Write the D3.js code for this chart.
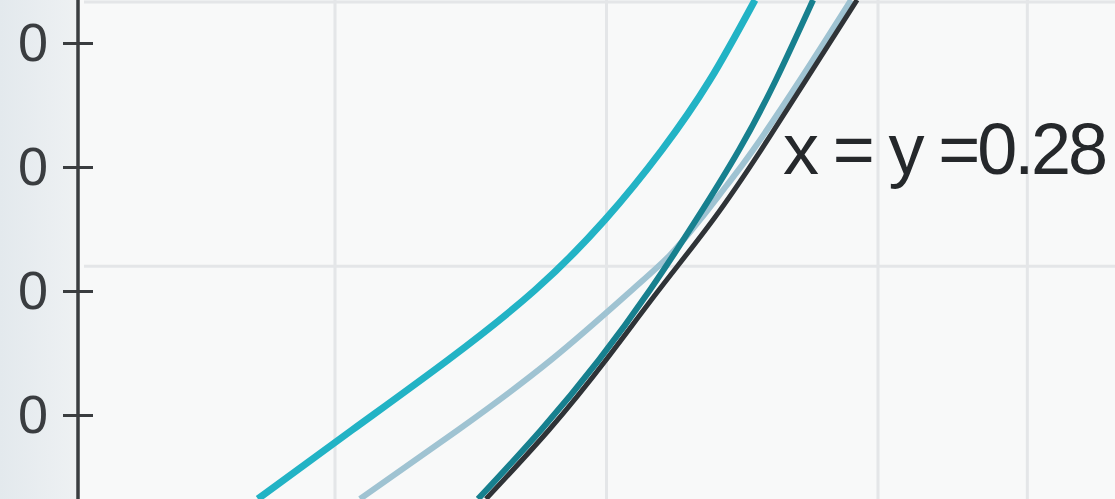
<!DOCTYPE html>
<html>
<head>
<meta charset="utf-8">
<script src="https://cdn.jsdelivr.net/npm/d3@7"></script>
<style>
  html, body { margin: 0; padding: 0; background: #f8f9f9; }
  svg { display: block; }
</style>
</head>
<body>
<svg id="chart" width="1115" height="499"></svg>
<script>
// Axis ticks and grid positions (data units)
const yTicks = [0.1, 0.2, 0.3, 0.4];
const yTickLabels = ["0", "0", "0", "0"];
const xGrid = [0.1, 0.2, 0.3, 0.355];
const yGrid = [0.22, 0.433];

// Curves
const cyanX  = [0.0716, 0.1063, 0.1416, 0.1737, 0.1994, 0.2204, 0.2381, 0.2547];
const cyanY  = [0.0323, 0.0879, 0.1444, 0.2008, 0.2573, 0.3137, 0.3702, 0.4347];

const paleX  = [0.1092, 0.1453, 0.1796, 0.2094, 0.2234, 0.2344, 0.2444, 0.2540, 0.2713, 0.2901];
const paleY  = [0.0323, 0.0879, 0.1444, 0.2008, 0.2290, 0.2573, 0.2855, 0.3137, 0.3702, 0.4347];

const blackX = [0.1556, 0.1788, 0.1998, 0.2193, 0.2392, 0.2569, 0.2735, 0.2923];
const blackY = [0.0323, 0.0879, 0.1444, 0.2008, 0.2573, 0.3137, 0.3702, 0.4347];

const tealX  = [0.1527, 0.1759, 0.1972, 0.2160, 0.2330, 0.2488, 0.2624, 0.2761];
const tealY  = [0.0323, 0.0879, 0.1444, 0.2008, 0.2573, 0.3137, 0.3702, 0.4347];

const labelText = "x = y =0.28";

const W = 1115, H = 499;
const axisX = 78;

const x = d3.scaleLinear().domain([0, 0.4]).range([63.5, 1149.5]);
const y = d3.scaleLinear().domain([0.1, 0.4]).range([415, 43]);

const svg = d3.select("#chart");
const defs = svg.append("defs");

// left panel gradient
const grad = defs.append("linearGradient").attr("id", "panel").attr("x1", 0).attr("x2", 1);
grad.append("stop").attr("offset", 0).attr("stop-color", "#e3e9ed");
grad.append("stop").attr("offset", 1).attr("stop-color", "#eef1f3");

defs.append("clipPath").attr("id", "plot")
  .append("rect").attr("x", axisX).attr("y", 0).attr("width", W - axisX).attr("height", H);

defs.append("filter").attr("id", "soft")
  .append("feGaussianBlur").attr("stdDeviation", 0.7);

svg.append("rect").attr("x", 0).attr("y", 0).attr("width", W).attr("height", H).attr("fill", "#f8f9f9");
svg.append("rect").attr("x", 0).attr("y", 0).attr("width", axisX).attr("height", H).attr("fill", "url(#panel)");

// grid
const grid = svg.append("g").attr("filter", "url(#soft)");
grid.selectAll("line.v").data(xGrid).join("line")
  .attr("x1", d => x(d)).attr("x2", d => x(d))
  .attr("y1", 0).attr("y2", H)
  .attr("stroke", "#e4e6e8").attr("stroke-width", 3);
grid.selectAll("line.h").data(yGrid).join("line")
  .attr("x1", axisX + 6).attr("x2", W)
  .attr("y1", d => y(d)).attr("y2", d => y(d))
  .attr("stroke", "#e4e6e8").attr("stroke-width", 3);

// curves
const series = [
  { xs: paleX,  ys: paleY,  color: "#9fc3d2", width: 6 },
  { xs: blackX, ys: blackY, color: "#2f3337", width: 5 },
  { xs: tealX,  ys: tealY,  color: "#17808f", width: 6 },
  { xs: cyanX,  ys: cyanY,  color: "#22b3c5", width: 7 }
];
const line = d3.line().x(d => x(d[0])).y(d => y(d[1])).curve(d3.curveNatural);
const curves = svg.append("g").attr("clip-path", "url(#plot)");
curves.selectAll("path").data(series).join("path")
  .attr("d", s => line(d3.zip(s.xs, s.ys)))
  .attr("fill", "none")
  .attr("stroke", s => s.color)
  .attr("stroke-width", s => s.width)
  .attr("stroke-linecap", "butt");

// y axis
const axis = svg.append("g")
  .attr("transform", `translate(${axisX},0)`)
  .call(d3.axisLeft(y).tickValues(yTicks).tickFormat(d => yTickLabels[yTicks.indexOf(d)]).tickSize(15).tickPadding(15));
axis.select(".domain").remove();
axis.selectAll(".tick line")
  .attr("x1", 15).attr("stroke", "#3a3d40").attr("stroke-width", 3);
axis.selectAll(".tick text")
  .attr("font-family", "'Liberation Sans', Arial, sans-serif")
  .attr("font-size", 54)
  .attr("fill", "#3a3d40");
svg.append("line")
  .attr("x1", axisX).attr("x2", axisX).attr("y1", 0).attr("y2", H)
  .attr("stroke", "#3a3d40").attr("stroke-width", 3.5);

// annotation
svg.append("text")
  .attr("x", 783).attr("y", 174)
  .attr("font-family", "'Liberation Sans', Arial, sans-serif")
  .attr("font-size", 72)
  .attr("fill", "#25282b")
  .attr("textLength", 325)
  .attr("lengthAdjust", "spacing")
  .text(labelText);
</script>
</body>
</html>
